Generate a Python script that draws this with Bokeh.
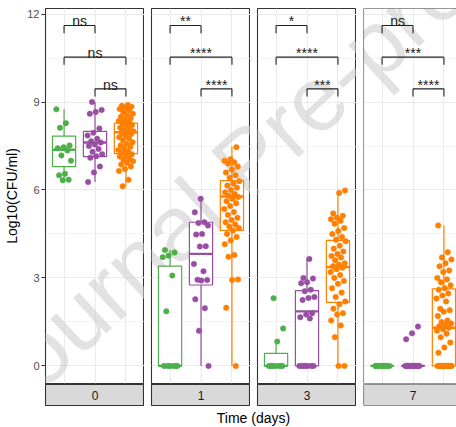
import numpy as np
from bokeh.plotting import figure
from bokeh.layouts import column, row
from bokeh.models import Range1d, LinearAxis, FixedTicker, Grid, Label, Span, ColumnDataSource
from bokeh.core.properties import value
from bokeh.embed import file_html
from bokeh.resources import INLINE

# ---------------- data ----------------
times = ["0", "1", "3", "7"]
group_colors = ["#4DAF4A", "#984EA3", "#FF7F00"]

green_0 = [8.75, 8.28, 8.12, 7.52, 7.46, 7.42, 7.35, 7.18, 7.0, 6.55, 6.5, 6.35, 6.33]
purple_0 = [9.0, 8.73, 8.66, 8.6, 8.1, 7.95, 7.86, 7.75, 7.66, 7.62, 7.55, 7.5, 7.4, 7.3,
            7.22, 7.15, 7.1, 6.8, 6.6, 6.27]
orange_0 = [8.9, 8.87, 8.84, 8.8, 8.76, 8.72, 8.66, 8.6, 8.55, 8.5, 8.44, 8.4, 8.35, 8.31,
            8.27, 8.22, 8.18, 8.12, 8.08, 8.03, 8.0, 7.97, 7.95, 7.91, 7.86, 7.8, 7.76, 7.7,
            7.63, 7.57, 7.52, 7.47, 7.4, 7.36, 7.3, 7.26, 7.22, 7.18, 7.14, 7.08, 7.03, 6.98,
            6.93, 6.87, 6.8, 6.72, 6.65, 6.35, 6.13]

green_1 = [3.95, 3.87, 3.76, 3.71, 3.08, 1.86, 0, 0, 0, 0, 0, 0]
purple_1 = [5.70, 5.24, 4.90, 4.87, 4.79, 4.50, 4.48, 4.08, 4.07, 3.48, 3.23, 2.94, 2.93,
            2.91, 2.27, 1.97, 1.20, 0]
orange_1 = [7.46, 7.05, 7.0, 6.95, 6.9, 6.8, 6.7, 6.6, 6.5, 6.42, 6.3, 6.22, 6.15, 6.08, 6.0,
            5.92, 5.86, 5.8, 5.76, 5.7, 5.62, 5.55, 5.45, 5.35, 5.25, 5.15, 5.05, 4.98, 4.9,
            4.82, 4.75, 4.7, 4.62, 4.5, 4.4, 4.28, 4.15, 3.78, 3.72, 2.95, 2.93, 1.98, 0]

green_3 = [2.31, 1.28, 0.83, 0, 0, 0, 0, 0, 0, 0]
purple_3 = [3.65, 3.0, 2.98, 2.85, 2.82, 2.6, 2.55, 2.35, 2.32, 2.25, 1.8, 1.75, 1.66, 1.62,
            0, 0, 0, 0, 0, 0, 0]
orange_3 = [5.98, 5.9, 5.2, 5.12, 5.05, 5.0, 4.95, 4.85, 4.7, 4.6, 4.5, 4.4, 4.3, 4.25, 4.1,
            4.0, 3.9, 3.82, 3.75, 3.7, 3.6, 3.5, 3.45, 3.4, 3.35, 3.3, 3.2, 3.1, 3.0, 2.9,
            2.8, 2.65, 2.5, 2.35, 2.2, 2.1, 1.95, 1.8, 1.75, 1.55, 1.38, 0.98, 0, 0]

green_7 = [0, 0, 0, 0, 0, 0, 0, 0, 0, 0, 0]
purple_7 = [1.34, 1.11, 0.91, 0, 0, 0, 0, 0, 0, 0, 0, 0, 0, 0, 0, 0]
orange_7 = [4.79, 3.88, 3.7, 3.63, 3.5, 3.4, 3.25, 3.2, 3.0, 2.95, 2.85, 2.75, 2.65, 2.6,
            2.47, 2.4, 2.3, 2.2, 1.95, 1.9, 1.85, 1.7, 1.55, 1.5, 1.45, 1.4, 1.35, 1.3,
            1.25, 1.2, 1.1, 0.98, 0.8, 0.63, 0.45, 0, 0, 0, 0, 0, 0, 0, 0, 0, 0, 0, 0, 0, 0, 0]

points = [[green_0, purple_0, orange_0],
          [green_1, purple_1, orange_1],
          [green_3, purple_3, orange_3],
          [green_7, purple_7, orange_7]]

# box statistics (per time, per group)
box_low = [[6.32, 6.27, 6.13], [0, 0, 0], [0, 0, 0], [0, 0, 0]]
box_q1 = [[6.80, 7.14, 7.24], [0, 2.76, 4.62], [0, 0, 2.17], [0, 0, 0]]
box_med = [[7.37, 7.62, 7.97], [0, 3.82, 5.78], [0, 1.86, 3.37], [0, 0, 1.30]]
box_q3 = [[7.84, 8.00, 8.28], [3.40, 4.90, 6.32], [0.43, 2.57, 4.28], [0, 0, 2.63]]
box_high = [[8.75, 9.00, 8.90], [3.95, 5.70, 7.48], [0.83, 3.65, 5.98], [0, 0, 4.79]]

sig_pairs = [(1, 2), (1, 3), (2, 3)]
sig_labels = [["ns", "ns", "ns"], ["**", "****", "****"],
              ["*", "****", "***"], ["ns", "***", "****"]]
bracket_y = [11.61, 10.53, 9.45]

y_ticks = [0, 3, 6, 9, 12]
y_minor = [1.5, 4.5, 7.5, 10.5]

# ---------------- layout constants ----------------
FONT = "Liberation Sans"
GRID_C = "#EBEBEB"
BORDER_C = "#333333"
Y0, Y1 = -0.60, 12.19
FRAME_TOP, FRAME_H = 8, 375
FRAME_W = 99
PX_X = FRAME_W / 3.2
PX_Y = FRAME_H / (Y1 - Y0)
frame_lefts = [45, 151, 257, 363]
left_borders = [45, 7, 7, 7]
frame_widths = [99, 99, 99, 93]
STRIP_TOP, STRIP_H = 384, 21
TITLE_H = 427 - STRIP_TOP - STRIP_H - 1

WM_TEXT = "Journal Pre-proof"
WM_X, WM_Y = 16, 400          # global pixel position of the watermark baseline start
WM_ANGLE = np.deg2rad(42.5)
WM_SIZE = "92px"


def drop_grids(p):
    p.center = [r for r in p.center if not isinstance(r, Grid)]
    return p


def watermark(p, frame_left, frame_bottom, x0, y0, py):
    xd = x0 + (WM_X - frame_left) / PX_X
    yd = y0 + (frame_bottom - WM_Y) / py
    p.add_layout(Label(x=xd, y=yd, text=WM_TEXT, angle=WM_ANGLE, text_font=FONT,
                       text_font_size=WM_SIZE, text_color="#CFCFCF", text_alpha=0.6,
                       text_align="left", text_baseline="alphabetic", level="underlay"))


def base_fig(k, height, y_range, top, bottom, bg):
    last = k == 3
    x_end = 0.4 + frame_widths[k] / PX_X
    p = figure(width=left_borders[k] + frame_widths[k], height=height,
               x_range=Range1d(0.4, x_end), y_range=y_range,
               x_axis_location=None, y_axis_location=None, toolbar_location=None,
               title_location=None, output_backend="svg",
               min_border_left=left_borders[k], min_border_right=0,
               min_border_top=top, min_border_bottom=bottom,
               outline_line_color=None if last else BORDER_C, outline_line_width=1.1,
               background_fill_color=bg, border_fill_color="white")
    return drop_grids(p)


panels = []
strips = []
jit_w = 0.25
for k, t in enumerate(times):
    last = k == 3
    p = base_fig(k, FRAME_TOP + FRAME_H + 1, Range1d(Y0, Y1), FRAME_TOP, 1, "white")
    p.add_layout(Grid(dimension=1, ticker=FixedTicker(ticks=y_ticks, minor_ticks=y_minor),
                      grid_line_color=GRID_C, grid_line_width=1.1,
                      minor_grid_line_color=GRID_C, minor_grid_line_width=0.6))
    p.add_layout(Grid(dimension=0, ticker=FixedTicker(ticks=[1, 2, 3]),
                      grid_line_color=GRID_C, grid_line_width=1.1))
    if last:
        for loc in [Y0, Y1]:
            p.add_layout(Span(location=loc, dimension="width", line_color=BORDER_C, line_width=1.1))
        p.add_layout(Span(location=0.4, dimension="height", line_color=BORDER_C, line_width=1.1))
    if k == 0:
        ax = LinearAxis(ticker=FixedTicker(ticks=y_ticks), axis_label="Log10(CFU/ml)",
                        axis_line_color=None, major_tick_line_color=BORDER_C,
                        major_tick_out=4, major_tick_in=0, minor_tick_out=0, minor_tick_in=0,
                        major_label_text_font=FONT, major_label_text_font_size="11px",
                        major_label_text_color="#4D4D4D", major_label_standoff=2,
                        axis_label_text_font=FONT, axis_label_text_font_size="14px",
                        axis_label_text_font_style="normal", axis_label_text_color="black",
                        axis_label_standoff=4)
        p.add_layout(ax, "left")
    watermark(p, frame_lefts[k], FRAME_TOP + FRAME_H, Y0, Y0, PX_Y)

    # boxes
    xs = [1, 2, 3]
    bsrc = ColumnDataSource(dict(
        x=xs, x0=[x - 0.375 for x in xs], x1=[x + 0.375 for x in xs],
        lo=box_low[k], q1=box_q1[k], med=box_med[k], q3=box_q3[k], hi=box_high[k],
        color=group_colors))
    p.segment(x0="x", x1="x", y0="q3", y1="hi", line_color="color", line_width=1.2, source=bsrc)
    p.segment(x0="x", x1="x", y0="lo", y1="q1", line_color="color", line_width=1.2, source=bsrc)
    p.vbar(x="x", width=0.75, bottom="q1", top="q3", fill_color="white",
           line_color="color", line_width=1.2, source=bsrc)
    p.segment(x0="x0", x1="x1", y0="med", y1="med", line_color="color", line_width=2.4,
              source=bsrc)

    # jittered points
    for g in range(3):
        vals = points[k][g]
        n = len(vals)
        off = ((np.arange(n) * 0.6180339887 + 0.31 * g + 0.17 * k) % 1.0 - 0.5) * 2 * jit_w
        src = ColumnDataSource(dict(x=(g + 1) + off, y=vals))
        p.scatter(x="x", y="y", size=5.5, fill_color=group_colors[g],
                  line_color=group_colors[g], line_width=0.5, source=src)

    # significance brackets
    tip = 0.26
    ssrc = ColumnDataSource(dict(x0=[a for a, b in sig_pairs], x1=[b for a, b in sig_pairs],
                                 y=bracket_y, yl=[y - tip for y in bracket_y],
                                 xm=[(a + b) / 2 for a, b in sig_pairs],
                                 ty=[y + 0.14 for y in bracket_y],
                                 lab=sig_labels[k]))
    p.segment(x0="x0", x1="x1", y0="y", y1="y", line_color="#222222", line_width=1.1, source=ssrc)
    p.segment(x0="x0", x1="x0", y0="y", y1="yl", line_color="#222222", line_width=1.1, source=ssrc)
    p.segment(x0="x1", x1="x1", y0="y", y1="yl", line_color="#222222", line_width=1.1, source=ssrc)
    p.text(x="xm", y="ty", text="lab", text_align="center", text_baseline="alphabetic",
           text_font=value(FONT), text_font_size="14px", text_color="#1A1A1A", source=ssrc)
    panels.append(p)

    # strip
    s = base_fig(k, STRIP_H + 1, Range1d(0, 1), 0, 1, "#D9D9D9")
    if last:
        for loc in [0, 1]:
            s.add_layout(Span(location=loc, dimension="width", line_color=BORDER_C, line_width=1.1))
        s.add_layout(Span(location=0.4, dimension="height", line_color=BORDER_C, line_width=1.1))
    s.add_layout(Label(x=2, y=0.5, text=t, text_align="center", text_baseline="middle",
                       text_font=FONT, text_font_size="12px", text_color="#1A1A1A"))
    strips.append(s)

title_fig = figure(width=456, height=TITLE_H, x_range=Range1d(0, 456), y_range=Range1d(0, TITLE_H),
                   x_axis_location=None, y_axis_location=None, toolbar_location=None,
                   title_location=None, output_backend="svg", min_border=0,
                   outline_line_color=None)
drop_grids(title_fig)
title_fig.add_layout(Label(x=253, y=TITLE_H - 3, text="Time (days)", text_align="center",
                           text_baseline="top", text_font=FONT, text_font_size="14px",
                           text_color="black"))

layout = column(row(*panels, spacing=0), row(*strips, spacing=0), title_fig, spacing=0)
open("out.html", "w").write(file_html(layout, INLINE))
